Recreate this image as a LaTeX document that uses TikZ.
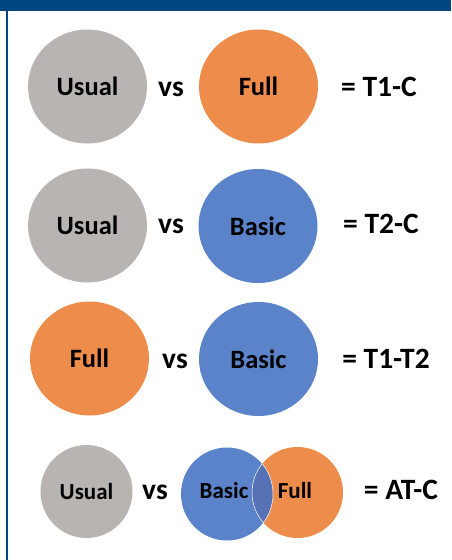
\documentclass[tikz,border=0pt]{standalone}
\usepackage{fontspec}
\setmainfont{Carlito}
\usetikzlibrary{shapes.geometric}
\definecolor{frameblue}{HTML}{00477F}
\definecolor{cgray}{HTML}{B8B4B2}
\definecolor{corange}{HTML}{EE8C4B}
\definecolor{cblue}{HTML}{5A83CA}
\definecolor{coverlap}{HTML}{5672B4}
\tikzset{
  bubble/.style={ellipse, inner sep=0pt, font=\bfseries\fontsize{26.5}{30}\selectfont, text=black},
  big/.style={bubble, minimum width=119pt, minimum height=114pt},
  small/.style={bubble, minimum width=92pt, minimum height=93pt, font=\bfseries\fontsize{23}{26}\selectfont},
  lbl/.style={font=\bfseries\fontsize{29.5}{32}\selectfont, inner sep=0pt, anchor=base},
  eqlbl/.style={font=\bfseries\fontsize{29.5}{32}\selectfont, inner sep=0pt, anchor=base},
  smlbl/.style={font=\bfseries\fontsize{23}{26}\selectfont, inner sep=0pt, anchor=base},
}
\begin{document}
\begin{tikzpicture}[x=1pt,y=-1pt]
\useasboundingbox (0,0) rectangle (451,560);
\fill[white] (0,0) rectangle (451,560);
\fill[frameblue] (0,0) rectangle (451,11);
\fill[frameblue] (5.5,11) rectangle (7.5,560);
% row 1
\node[big, fill=cgray] (u1) at (87.5,86.5) {Usual};
\node[lbl] (vs1) at (171,96) {vs};
\node[big, fill=corange] (f1) at (258.5,86.5) {Full};
\node[eqlbl] (e1) at (379,96) {= T1-C};
% row 2
\node[big, fill=cgray] (u2) at (87.5,225.5) {Usual};
\node[lbl] (vs2) at (171,233) {vs};
\node[big, fill=cblue] (b2) at (258,226) {Basic};
\node[eqlbl] (e2) at (381,233) {= T2-C};
% row 3
\node[big, fill=corange] (f3) at (89.5,358.5) {Full};
\node[lbl] (vs3) at (175,368) {vs};
\node[big, fill=cblue] (b3) at (258.5,359) {Basic};
\node[eqlbl] (e3) at (386,368) {= T1-T2};
% row 4
\node[small, fill=cgray] (u4) at (86.5,491.5) {Usual};
\node[lbl] (vs4) at (155,499) {vs};
\node[small, fill=cblue] (b4) at (227,494) {};
\node[small, fill=corange, minimum width=91pt, minimum height=91pt] (o4) at (297.5,492.5) {};
\begin{scope}
  \clip (b4.center) ellipse [x radius=46pt, y radius=47pt];
  \fill[coverlap] (o4.center) ellipse [x radius=45.5pt, y radius=45.5pt];
\end{scope}
\begin{scope}
  \clip (b4.center) ellipse [x radius=46pt, y radius=47pt];
  \draw[white, line width=0.5pt] (o4.center) ellipse [x radius=45.5pt, y radius=45.5pt];
\end{scope}
\begin{scope}
  \clip (o4.center) ellipse [x radius=45.5pt, y radius=45.5pt];
  \draw[white, line width=0.5pt] (b4.center) ellipse [x radius=46pt, y radius=47pt];
\end{scope}
\node[smlbl] (tb4) at (224,498) {Basic};
\node[smlbl] (tf4) at (295,498) {Full};
\node[eqlbl] (e4) at (401,499) {= AT-C};
\end{tikzpicture}
\end{document}
